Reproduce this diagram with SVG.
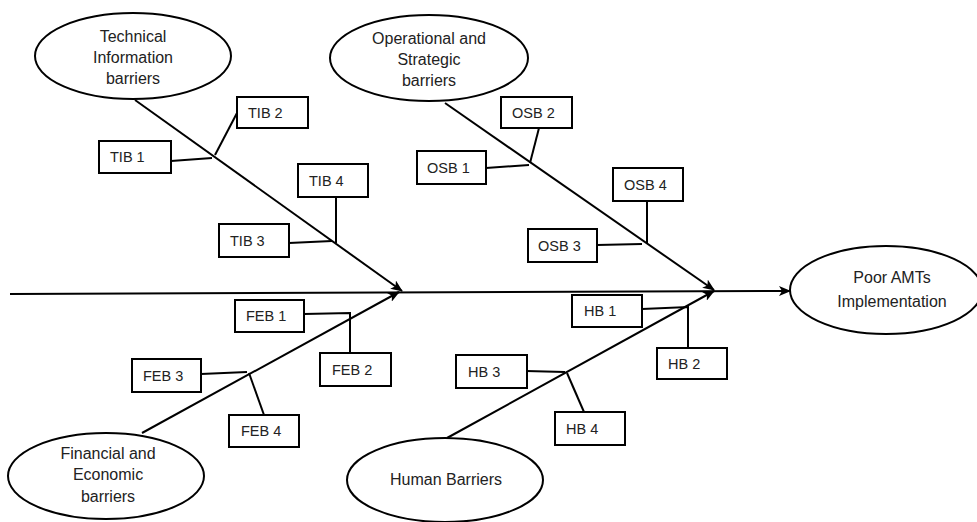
<svg xmlns="http://www.w3.org/2000/svg" width="977" height="522" viewBox="0 0 977 522">
<defs>
<marker id="arr" markerUnits="userSpaceOnUse" markerWidth="12" markerHeight="10" refX="11" refY="5" orient="auto">
<path d="M0,0 L12,5 L0,10 L3,5 Z" fill="#000"/>
</marker>
<style>
.e{fill:#fff;stroke:#000;stroke-width:2}
.b{fill:#fff;stroke:#000;stroke-width:2}
.l{fill:none;stroke:#000;stroke-width:2}
.t{font-family:"Liberation Sans",Arial,sans-serif;font-size:16px;fill:#222;text-anchor:middle}
.bt{font-family:"Liberation Sans",Arial,sans-serif;font-size:14.5px;fill:#222}
</style>
</defs>
<rect width="977" height="522" fill="#fff"/>
<g id="connectors">
<path class="l" d="M10,294 L790,291" marker-end="url(#arr)"/>
<path class="l" d="M135,100 L402,291" marker-end="url(#arr)"/>
<path class="l" d="M445,103 L714,290" marker-end="url(#arr)"/>
<path class="l" d="M142,433 L399,292" marker-end="url(#arr)"/>
<path class="l" d="M447,438 L714,291" marker-end="url(#arr)"/>
<path class="l" d="M171,161 L212,158"/>
<path class="l" d="M237,113 L215,155"/>
<path class="l" d="M289,243 L332,241"/>
<path class="l" d="M336,197 L336,243"/>
<path class="l" d="M486,168 L529,165"/>
<path class="l" d="M539,128 L530,163"/>
<path class="l" d="M597,245 L642,244"/>
<path class="l" d="M647,201 L647,244"/>
<path class="l" d="M304,314 L350,313 L350,353"/>
<path class="l" d="M201,374 L247,372"/>
<path class="l" d="M249,373 L264,415"/>
<path class="l" d="M642,309 L688,307 L688,348"/>
<path class="l" d="M526,371 L565,372"/>
<path class="l" d="M567,373 L584,412"/>
</g>
<g id="tib">
<ellipse class="e" cx="133" cy="56" rx="98" ry="43"/>
<text class="t" x="133" y="42">Technical</text>
<text class="t" x="133" y="63">Information</text>
<text class="t" x="133" y="84">barriers</text>
</g>
<g id="osb">
<ellipse class="e" cx="429" cy="58" rx="99" ry="43"/>
<text class="t" x="429" y="44">Operational and</text>
<text class="t" x="429" y="65">Strategic</text>
<text class="t" x="429" y="86">barriers</text>
</g>
<g id="feb">
<ellipse class="e" cx="106" cy="476" rx="98" ry="43"/>
<text class="t" x="108" y="459">Financial and</text>
<text class="t" x="108" y="480">Economic</text>
<text class="t" x="108" y="502">barriers</text>
</g>
<g id="hb">
<ellipse class="e" cx="445" cy="480" rx="98" ry="42"/>
<text class="t" x="446" y="485">Human Barriers</text>
</g>
<g id="poor">
<ellipse class="e" cx="886" cy="290" rx="96" ry="44"/>
<text class="t" x="892" y="283">Poor AMTs</text>
<text class="t" x="892" y="307">Implementation</text>
</g>
<g id="tib1"><rect class="b" x="99" y="141" width="72" height="32"/><text class="bt" x="110" y="162">TIB 1</text></g>
<g id="tib2"><rect class="b" x="237" y="97" width="71" height="31"/><text class="bt" x="248" y="118">TIB 2</text></g>
<g id="tib3"><rect class="b" x="219" y="224" width="70" height="33"/><text class="bt" x="230" y="246">TIB 3</text></g>
<g id="tib4"><rect class="b" x="298" y="164" width="70" height="33"/><text class="bt" x="309" y="186">TIB 4</text></g>
<g id="osb1"><rect class="b" x="417" y="151" width="69" height="33"/><text class="bt" x="427" y="173">OSB 1</text></g>
<g id="osb2"><rect class="b" x="501" y="97" width="71" height="31"/><text class="bt" x="512" y="118">OSB 2</text></g>
<g id="osb3"><rect class="b" x="528" y="229" width="69" height="33"/><text class="bt" x="538" y="251">OSB 3</text></g>
<g id="osb4"><rect class="b" x="613" y="168" width="70" height="33"/><text class="bt" x="624" y="190">OSB 4</text></g>
<g id="feb1"><rect class="b" x="235" y="300" width="69" height="32"/><text class="bt" x="246" y="321">FEB 1</text></g>
<g id="feb2"><rect class="b" x="320" y="353" width="71" height="33"/><text class="bt" x="332" y="375">FEB 2</text></g>
<g id="feb3"><rect class="b" x="132" y="359" width="69" height="33"/><text class="bt" x="143" y="381">FEB 3</text></g>
<g id="feb4"><rect class="b" x="229" y="415" width="70" height="32"/><text class="bt" x="241" y="436">FEB 4</text></g>
<g id="hb1"><rect class="b" x="572" y="295" width="70" height="32"/><text class="bt" x="584" y="316">HB 1</text></g>
<g id="hb2"><rect class="b" x="657" y="348" width="70" height="31"/><text class="bt" x="668" y="369">HB 2</text></g>
<g id="hb3"><rect class="b" x="456" y="355" width="71" height="33"/><text class="bt" x="468" y="377">HB 3</text></g>
<g id="hb4"><rect class="b" x="555" y="412" width="70" height="33"/><text class="bt" x="566" y="434">HB 4</text></g>
</svg>
